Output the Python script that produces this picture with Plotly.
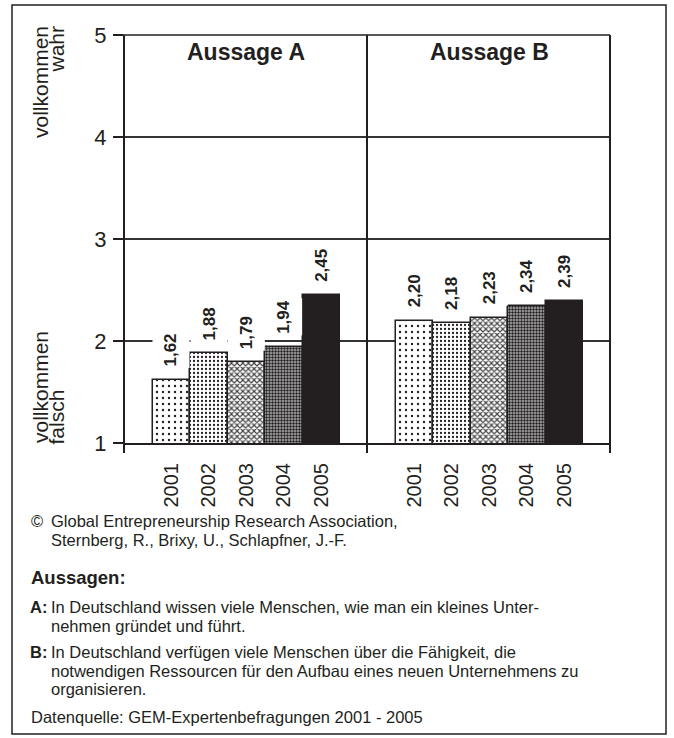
import plotly.graph_objects as go
from plotly.subplots import make_subplots

# ---- data ----
years = ["2001", "2002", "2003", "2004", "2005"]
aussage_a = [1.62, 1.88, 1.79, 1.94, 2.45]
aussage_b = [2.20, 2.18, 2.23, 2.34, 2.39]
y_ticks = [1, 2, 3, 4, 5]
panel_titles = ["Aussage A", "Aussage B"]

FONT = "Liberation Sans, Arial, Helvetica, sans-serif"
INK = "#231f20"

W, H = 674, 738
L, R, T, B = 124, 610, 35, 443  # plot area in pixels


def px(x):
    return (x - L) / (R - L)


def py(y):
    return (B - y) / (B - T)


# per-year fill styles
styles = [
    dict(color="white", pattern=dict(shape=".", size=6, solidity=0.12, fgcolor=INK, bgcolor="white", fillmode="replace")),
    dict(color="white", pattern=dict(shape=".", size=4, solidity=0.25, fgcolor=INK, bgcolor="white", fillmode="replace")),
    dict(color="white", pattern=dict(shape="x", size=4, solidity=0.5, fgcolor="#444444", bgcolor="white", fillmode="replace")),
    dict(color="#9a9a9a", pattern=dict(shape=".", size=3, solidity=0.5, fgcolor=INK, bgcolor="#b0b0b0", fillmode="replace")),
    dict(color=INK),
]

fig = make_subplots(rows=1, cols=2, horizontal_spacing=0)

for c, vals in enumerate([aussage_a, aussage_b]):
    for yr, v, st in zip(years, vals, styles):
        fig.add_trace(
            go.Bar(
                x=[yr], y=[v], width=1,
                marker=dict(line=dict(color=INK, width=1.5), **st),
                showlegend=False, hoverinfo="skip",
            ),
            row=1, col=c + 1,
        )

xrange_ = [-1.26, 5.22]
for i in (1, 2):
    fig.update_xaxes(
        type="category", categoryorder="array", categoryarray=years,
        range=xrange_, showgrid=False, showline=True,
        linecolor=INK, linewidth=2, tickangle=-90, ticks="",
        ticklabelstandoff=10,
        tickfont=dict(family=FONT, size=20, color=INK),
        row=1, col=i,
    )
    fig.update_yaxes(
        range=[1, 5], tickvals=y_ticks, showgrid=True, gridcolor="#333333",
        gridwidth=1.5, zeroline=False, showline=False,
        row=1, col=i,
    )

fig.update_yaxes(ticks="outside", ticklen=10, tickwidth=1.5, tickcolor=INK,
                 showticklabels=True, ticklabelstandoff=2,
                 tickfont=dict(family=FONT, size=22, color=INK), row=1, col=1)
fig.update_yaxes(showticklabels=False, ticks="", row=1, col=2)

fig.update_layout(barmode="overlay", bargap=0)

annotations = []
# value labels (white boxes as wide as a bar, hiding the grid line behind)
for xref, yref, vals in (("x", "y", aussage_a), ("x2", "y2", aussage_b)):
    for idx, v in enumerate(vals):
        annotations.append(dict(
            x=idx, y=v, xref=xref, yref=yref,
            text="<b>" + f"{v:.2f}".replace(".", ",") + "</b>",
            textangle=-90, xanchor="center", yanchor="bottom", yshift=11,
            showarrow=False, bgcolor="white", borderpad=1, height=34,
            font=dict(family=FONT, size=17, color=INK),
        ))

# panel titles
for title, cx in zip(panel_titles, (246, 489)):
    annotations.append(dict(
        x=px(cx), y=py(52), xref="paper", yref="paper", text="<b>" + title + "</b>",
        showarrow=False, xanchor="center", yanchor="middle",
        font=dict(family=FONT, size=23, color=INK),
    ))

# side labels
side = [
    ("vollkommen", 40, 24, "top"),
    ("wahr", 56, 24, "top"),
    ("vollkommen", 40, 445, "bottom"),
    ("falsch", 56, 447, "bottom"),
]
for txt, cx, yy, anc in side:
    annotations.append(dict(
        x=px(cx), y=py(yy), xref="paper", yref="paper", text=txt, textangle=-90,
        showarrow=False, xanchor="center", yanchor=anc,
        font=dict(family=FONT, size=21, color=INK),
    ))

# footer texts
body = 16.5
X0, X1 = 29, 49
foot = [
    ("©", X0, 521, False, body),
    ("Global Entrepreneurship Research Association,", X1, 521, False, body),
    ("Sternberg, R., Brixy, U., Schlapfner, J.-F.", X1, 539.5, False, body),
    ("Aussagen:", X0, 577, True, 18.5),
    ("A:", X0 - 1, 607, True, body),
    ("In Deutschland wissen viele Menschen, wie man ein kleines Unter-", X1, 607, False, body),
    ("nehmen gründet und führt.", X1, 625.5, False, body),
    ("B:", X0 - 1, 652, True, body),
    ("In Deutschland verfügen viele Menschen über die Fähigkeit, die", X1, 652, False, body),
    ("notwendigen Ressourcen für den Aufbau eines neuen Unternehmens zu", X1, 670.5, False, body),
    ("organisieren.", X1, 689, False, body),
    ("Datenquelle: GEM-Expertenbefragungen 2001 - 2005", X0, 717, False, body),
]
for txt, x0, yy, bold, fs in foot:
    annotations.append(dict(
        x=px(x0), y=py(yy), xref="paper", yref="paper",
        text=("<b>" + txt + "</b>") if bold else txt,
        showarrow=False, xanchor="left", yanchor="middle",
        font=dict(family=FONT, size=fs, color=INK),
    ))

shapes = []
# vertical frame lines
for xx in (124, 367, 610):
    shapes.append(dict(type="line", xref="paper", yref="paper",
                       x0=px(xx), x1=px(xx), y0=py(453), y1=py(35),
                       line=dict(color=INK, width=2)))
# top line
shapes.append(dict(type="line", xref="paper", yref="paper",
                   x0=px(114), x1=px(610), y0=1, y1=1,
                   line=dict(color=INK, width=1.5)))
# outer border
shapes.append(dict(type="rect", xref="paper", yref="paper",
                   x0=px(12), x1=px(666), y0=py(734), y1=py(5),
                   line=dict(color=INK, width=1.5), fillcolor="rgba(0,0,0,0)"))

fig.update_layout(
    width=W, height=H,
    margin=dict(l=L, r=W - R, t=T, b=H - B),
    paper_bgcolor="white", plot_bgcolor="white",
    annotations=annotations, shapes=shapes,
    font=dict(family=FONT, color=INK),
)

fig.write_html("out.html", config={"displayModeBar": False},
               post_script="document.body.style.margin='0';document.body.style.overflow='hidden';")
